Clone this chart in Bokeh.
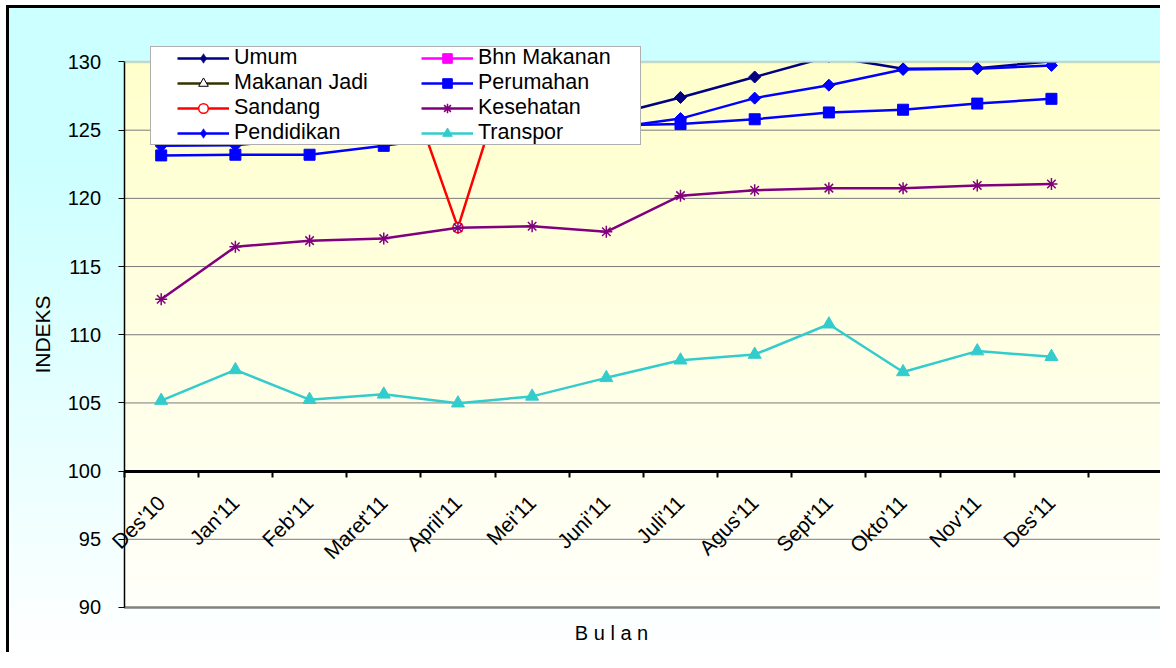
import numpy as np
from math import pi
from bokeh.plotting import figure
from bokeh.models import (Range1d, FixedTicker, Legend, LegendItem, Label,
                          BoxAnnotation, CDSView, IndexFilter)
from bokeh.embed import file_html
from bokeh.resources import INLINE

# ---------------- data ----------------
months = ["Des'10", "Jan'11", "Feb'11", "Maret'11", "April'11", "Mei'11", "Juni'11",
          "Juli'11", "Agus'11", "Sept'11", "Okto'11", "Nov'11", "Des'11"]

umum         = [124.2, 124.9, 125.2, 125.4, 125.3, 125.7, 126.0, 127.4, 128.9, 130.4, 129.5, 129.55, 130.05]
bhn_makanan  = [136.5, 138.2, 137.9, 136.4, 135.0, 134.6, 135.3, 137.1, 138.9, 140.2, 139.5, 140.8, 141.6]
makanan_jadi = [131.5, 132.4, 132.8, 133.1, 133.5, 133.9, 134.2, 134.9, 135.8, 136.6, 137.0, 137.3, 137.6]
perumahan    = [123.15, 123.2, 123.2, 123.85, 124.6, 125.0, 125.35, 125.45, 125.8, 126.3, 126.5, 126.95, 127.3]
sandang      = [132.3, 132.6, 132.9, 133.3, 117.85, 135.1, 135.5, 136.0, 136.8, 137.5, 138.0, 138.4, 138.9]
kesehatan    = [112.6, 116.45, 116.9, 117.05, 117.85, 117.95, 117.55, 120.2, 120.6, 120.75, 120.75, 120.95, 121.05]
pendidikan   = [123.85, 123.9, 124.4, 124.6, 124.8, 125.0, 125.1, 125.85, 127.35, 128.3, 129.45, 129.5, 129.75]
transpor     = [105.17, 107.42, 105.24, 105.63, 104.98, 105.48, 106.84, 108.13, 108.55, 110.77, 107.27, 108.8, 108.39]

y_ticks = [90, 95, 100, 105, 110, 115, 120, 125, 130]

FONT = "Liberation Sans"

x = list(range(len(months)))
y_lo, y_hi = y_ticks[0], y_ticks[-1]
ax_x = -0.5          # value axis sits on the left category boundary
x_end = 13.47

p = figure(width=1160, height=652, output_backend="svg", toolbar_location=None,
           x_range=Range1d(-2.166, x_end), y_range=Range1d(86.70, 131.136),
           min_border_left=0, min_border_right=0, min_border_top=46, min_border_bottom=0)
p.border_fill_alpha = 0
p.background_fill_alpha = 0
p.outline_line_color = None
p.styles = {"background":
            "linear-gradient(#000000,#000000) 6px 5px / 3px 100% no-repeat, "
            "linear-gradient(#000000,#000000) 6px 5px / 100% 3px no-repeat, "
            "linear-gradient(180deg, #CCFFFF 0%, #CCFFFF 24%, #FFFFFF 100%) 6px 5px / 100% 100% no-repeat, "
            "#FFFFFF"}

# plot-area gradient background (90..130)
n = 256
img = np.zeros((n, 1), dtype=np.uint32)
view = img.view(dtype=np.uint8).reshape((n, 1, 4))
top_c = np.array([255, 255, 204])
bot_c = np.array([255, 255, 251])
for k in range(n):
    t = k / (n - 1)
    c = bot_c + (top_c - bot_c) * t
    view[k, 0, 0:3] = c.astype(np.uint8)
    view[k, 0, 3] = 255
p.image_rgba(image=[img], x=ax_x, y=y_lo, dw=x_end - ax_x, dh=y_hi - y_lo, level="image")

# grid lines (only over the plot area)
p.xgrid.visible = False
p.ygrid.visible = False
inner = [t for t in y_ticks if t not in (y_lo, y_hi, 100)]
p.segment(x0=[ax_x] * len(inner), x1=[x_end] * len(inner), y0=inner, y1=inner,
          line_color="#7a7a7a", line_width=1, level="underlay")
p.segment(x0=[ax_x], x1=[x_end], y0=[y_lo], y1=[y_lo],
          line_color="#808080", line_width=2.5, level="underlay")

# y axis (inside the frame so that the category labels are not clipped)
p.yaxis.fixed_location = ax_x
p.yaxis.ticker = FixedTicker(ticks=y_ticks)
p.yaxis.bounds = (y_lo, y_hi)
p.yaxis.axis_line_color = "black"
p.yaxis.axis_line_width = 1.5
p.yaxis.major_tick_out = 6
p.yaxis.major_tick_in = 0
p.yaxis.major_tick_line_color = "black"
p.yaxis.minor_tick_line_color = None
p.yaxis.major_label_text_font = FONT
p.yaxis.major_label_text_font_size = "20px"
p.yaxis.major_label_text_color = "black"
p.yaxis.major_label_standoff = 17
p.yaxis.axis_label = "INDEKS"
p.yaxis.axis_label_text_font = FONT
p.yaxis.axis_label_text_font_size = "21px"
p.yaxis.axis_label_text_font_style = "normal"
p.yaxis.axis_label_text_color = "black"
p.yaxis.axis_label_standoff = 11

# x axis (crossing at 100, ticks between categories)
p.xaxis.fixed_location = 100
p.xaxis.bounds = (ax_x, x_end)
p.xaxis.ticker = FixedTicker(ticks=x, minor_ticks=[i - 0.5 for i in range(len(months) + 2)])
p.xaxis.major_label_overrides = {i: m for i, m in enumerate(months)}
p.xaxis.major_label_orientation = pi / 4
p.xaxis.major_tick_out = 0
p.xaxis.major_tick_in = 0
p.xaxis.minor_tick_out = 6
p.xaxis.minor_tick_in = 0
p.xaxis.minor_tick_line_color = "black"
p.xaxis.minor_tick_line_width = 2
p.xaxis.axis_line_color = "black"
p.xaxis.axis_line_width = 3
p.xaxis.major_label_text_font = FONT
p.xaxis.major_label_text_font_size = "21px"
p.xaxis.major_label_text_color = "black"
p.xaxis.major_label_standoff = 22

# ---------------- series ----------------
def series(vals, color, marker, size, fill=None, lw=2.5, angle=0.0, mlw=1.0):
    lr = p.line(x, vals, line_color=color, line_width=lw)
    sr = p.scatter(x, vals, marker=marker, size=size, angle=angle,
                   fill_color=fill if fill is not None else color,
                   line_color=color, line_width=mlw)
    return lr, sr

r_umum = series(umum, "#000080", "square", 8.5, angle=pi / 4)
r_bhn = series(bhn_makanan, "#FF00FF", "square", 10)
r_mj = series(makanan_jadi, "#333300", "triangle", 10, fill="white")
r_mj[1].glyph.line_color = "black"
r_per = series(perumahan, "#0000FF", "square", 11)
r_san = series(sandang, "#FF0000", "circle", 10, fill="white", mlw=1.5)
r_kes = series(kesehatan, "#800080", "asterisk", 12, mlw=1.5)
r_pen = series(pendidikan, "#0000FF", "square", 8.5, angle=pi / 4)
r_tra = series(transpor, "#33CCCC", "triangle", 13)

# legend diamonds (legend markers ignore angle): zero-size in the plot,
# the legend sizes its markers from the glyph box
d_umum = p.scatter(x, umum, marker="diamond", size=0, fill_color="#000080",
                   line_color="#000080", line_width=0.5)
d_pen = p.scatter(x, pendidikan, marker="diamond", size=0, fill_color="#0000FF",
                  line_color="#0000FF", line_width=0.5)
dummy = p.line(x, umum, line_alpha=0, view=CDSView(filter=IndexFilter(indices=[])))

# hide everything above the top of the value axis (chart-area colour),
# drawn as an opaque glyph after the series
p.quad(left=[ax_x], right=[x_end], bottom=[y_hi], top=[p.y_range.end + 1],
       fill_color="#CCFFFF", fill_alpha=1, line_color="#CCFFFF", line_width=1)
p.add_layout(BoxAnnotation(bottom=y_hi, top=y_hi, left=ax_x, fill_alpha=0,
                           line_color="#808080", line_width=2.5))

# legend box (frame bottom is at the figure bottom: 652 px)
leg_box = Legend(items=[LegendItem(label=" ", renderers=[dummy])], location=(150, 507),
                 padding=0, margin=0, spacing=0, glyph_width=1, glyph_height=97,
                 label_width=488, label_height=97, label_standoff=0,
                 background_fill_color="white", background_fill_alpha=1,
                 border_line_color="#606060", border_line_width=1)

common = dict(padding=0, margin=0, spacing=0, glyph_width=52, glyph_height=24,
              label_height=24, label_standoff=5, background_fill_alpha=0,
              border_line_color=None, label_text_font=FONT, label_text_font_size="21.5px",
              label_text_color="black")
leg1 = Legend(items=[LegendItem(label="Umum", renderers=[r_umum[0], d_umum]),
                     LegendItem(label="Makanan Jadi", renderers=list(r_mj)),
                     LegendItem(label="Sandang", renderers=list(r_san)),
                     LegendItem(label="Pendidikan", renderers=[r_pen[0], d_pen])],
              location=(177, 507), **common)
leg2 = Legend(items=[LegendItem(label="Bhn Makanan", renderers=list(r_bhn)),
                     LegendItem(label="Perumahan", renderers=list(r_per)),
                     LegendItem(label="Kesehatan", renderers=list(r_kes)),
                     LegendItem(label="Transpor", renderers=list(r_tra))],
              location=(421, 507), **common)
p.add_layout(leg_box)
p.add_layout(leg1)
p.add_layout(leg2)

p.add_layout(Label(x=611, y=20, x_units="screen", y_units="screen", text="B u l a n",
                   text_align="center", text_baseline="middle", text_font=FONT,
                   text_font_size="20px", text_color="black"))

open("out.html", "w").write(file_html(p, INLINE))
